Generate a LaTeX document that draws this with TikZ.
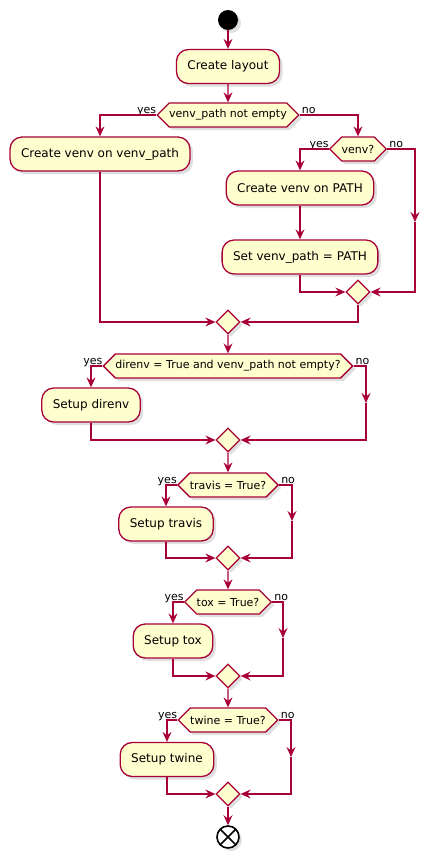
\documentclass[tikz,border=0pt]{standalone}
\usepackage{fontspec}
\setmainfont{DejaVu Sans}
\usetikzlibrary{arrows.meta,shapes.geometric,shapes.symbols,shadows}
\definecolor{plred}{HTML}{A80036}
\definecolor{plfill}{HTML}{FEFECE}
\tikzset{
  plshadow/.style={drop shadow={shadow xshift=3pt,shadow yshift=-3pt,opacity=.25}},
  act/.style={draw=plred, fill=plfill, line width=1.3pt, rounded corners=12pt,
    minimum height=34pt, inner xsep=11pt, font=\fontsize{12}{14}\selectfont, plshadow},
  cond/.style={signal, signal to=east and west, signal pointer angle=90,
    draw=plred, fill=plfill, line width=1.3pt, minimum height=24pt, inner xsep=0pt,
    font=\fontsize{11}{13}\selectfont, plshadow},
  merge/.style={diamond, draw=plred, fill=plfill, line width=1.3pt,
    minimum width=24pt, minimum height=24pt, inner sep=0pt, plshadow},
  startnode/.style={circle, fill=black, minimum size=20pt, inner sep=0pt, plshadow},
  stopnode/.style={circle, draw=black, fill=white, line width=1.6pt, minimum size=22pt,
    inner sep=0pt, plshadow,
    path picture={\draw[line width=1.6pt]
      (path picture bounding box.north west) -- (path picture bounding box.south east)
      (path picture bounding box.north east) -- (path picture bounding box.south west);}},
  flow/.style={draw=plred, line width=1.3pt, -{Stealth[length=10pt,width=9pt,inset=3.5pt]}},
  yeslbl/.style={anchor=base east, inner sep=0pt, yshift=2pt, font=\fontsize{11}{13}\selectfont},
  nolbl/.style={anchor=base west, inner sep=0pt, yshift=2pt, xshift=2pt, font=\fontsize{11}{13}\selectfont},
}
\begin{document}
\begin{tikzpicture}[x=1pt,y=-1pt]
	\useasboundingbox (0,0) rectangle (429,857);
	\node[startnode] (start) at (228,20) {};
	\node[act] (layout) at (228,66.5) {Create layout};
	\node[cond] (q1) at (228,115) {venv\_path not empty};
	\node[yeslbl] (q1yes) at (q1.west) {yes};
	\node[nolbl] (q1no) at (q1.east) {no};
	\node[act] (venvpath) at (100,154) {Create venv on venv\_path};
	\node[cond] (q2) at (358,149) {venv?};
	\node[yeslbl] (q2yes) at (q2.west) {yes};
	\node[nolbl] (q2no) at (q2.east) {no};
	\node[act] (pathbox) at (300,188) {Create venv on PATH};
	\node[act] (setbox) at (300,257) {Set venv\_path = PATH};
	\coordinate (n2) at (415,222);
	\node[merge] (m2) at (358,292) {};
	\node[merge] (m1) at (228,322) {};
	\node[cond] (q3) at (228,366) {direnv = True and venv\_path not empty?};
	\node[yeslbl] (q3yes) at (q3.west) {yes};
	\node[nolbl] (q3no) at (q3.east) {no};
	\node[act] (direnv) at (91,405) {Setup direnv};
	\coordinate (n3) at (366,403);
	\node[merge] (m3) at (228,440) {};
	\node[cond] (q4) at (228,485) {travis = True?};
	\node[yeslbl] (q4yes) at (q4.west) {yes};
	\node[nolbl] (q4no) at (q4.east) {no};
	\node[act] (travis) at (166,524) {Setup travis};
	\coordinate (n4) at (292,521);
	\node[merge] (m4) at (228,558) {};
	\node[cond] (q5) at (228,602) {tox = True?};
	\node[yeslbl] (q5yes) at (q5.west) {yes};
	\node[nolbl] (q5no) at (q5.east) {no};
	\node[act] (tox) at (173,641) {Setup tox};
	\coordinate (n5) at (283,638);
	\node[merge] (m5) at (228,676) {};
	\node[cond] (q6) at (228,720) {twine = True?};
	\node[yeslbl] (q6yes) at (q6.west) {yes};
	\node[nolbl] (q6no) at (q6.east) {no};
	\node[act] (twine) at (167,759.5) {Setup twine};
	\coordinate (n6) at (291,757);
	\node[merge] (m6) at (228,794) {};
	\node[stopnode] (stop) at (228,837) {};

	\draw[flow] (start) -- (layout);
	\draw[flow] (layout) -- (q1);
	\draw[flow] (q1.west) -| (venvpath);
	\draw[flow] (q1.east) -| (q2);
	\draw[flow] (q2.west) -| (pathbox);
	\draw[flow] (pathbox) -- (setbox);
	\draw[flow] (q2.east) -| (n2);
	\draw[flow] (n2) |- (m2);
	\draw[flow] (setbox) |- (m2);
	\draw[flow] (m2) |- (m1);
	\draw[flow] (venvpath) |- (m1);
	\draw[flow] (m1) -- (q3);
	\draw[flow] (q3.west) -| (direnv);
	\draw[flow] (q3.east) -| (n3);
	\draw[flow] (n3) |- (m3);
	\draw[flow] (direnv) |- (m3);
	\draw[flow] (m3) -- (q4);
	\draw[flow] (q4.west) -| (travis);
	\draw[flow] (q4.east) -| (n4);
	\draw[flow] (n4) |- (m4);
	\draw[flow] (travis) |- (m4);
	\draw[flow] (m4) -- (q5);
	\draw[flow] (q5.west) -| (tox);
	\draw[flow] (q5.east) -| (n5);
	\draw[flow] (n5) |- (m5);
	\draw[flow] (tox) |- (m5);
	\draw[flow] (m5) -- (q6);
	\draw[flow] (q6.west) -| (twine);
	\draw[flow] (q6.east) -| (n6);
	\draw[flow] (n6) |- (m6);
	\draw[flow] (twine) |- (m6);
	\draw[flow] (m6) -- (stop);
\end{tikzpicture}
\end{document}
